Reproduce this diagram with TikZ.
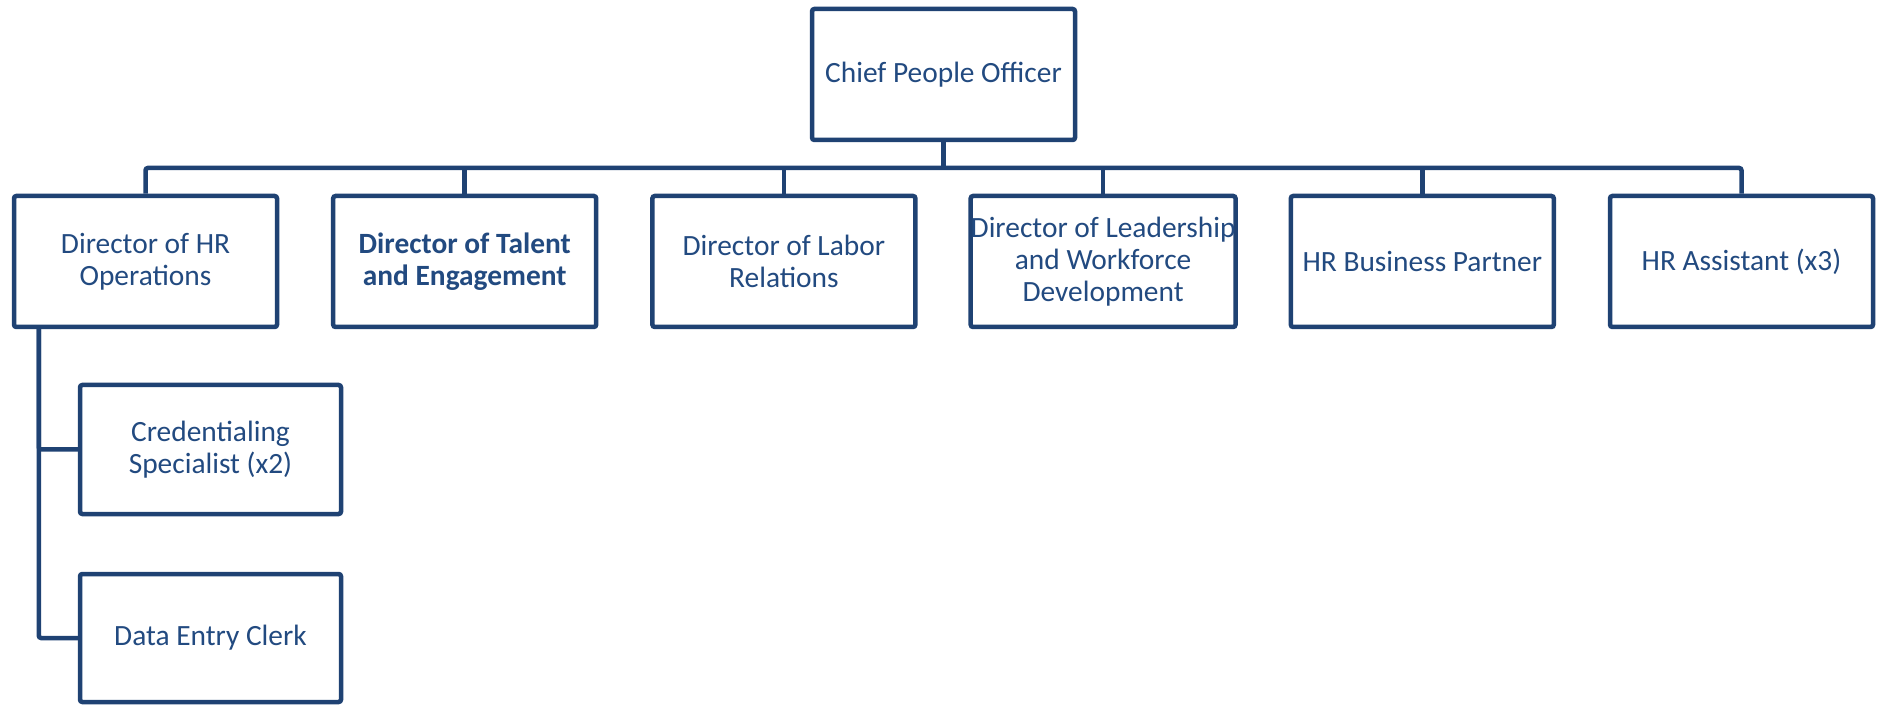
\documentclass[tikz,border=0pt]{standalone}
\usepackage{fontspec}
\setmainfont{Carlito}
\definecolor{boxline}{RGB}{31,66,115}
\definecolor{boxtext}{RGB}{34,74,128}
\begin{document}
\begin{tikzpicture}[x=0.5pt,y=-0.5pt,
  role/.style={draw=boxline, line width=2.25pt, rounded corners=1.2pt, fill=white,
    text=boxtext, align=center, inner sep=0pt,
    minimum width=131.5pt, minimum height=65.5pt,
    font=\fontsize{14.7}{16}\selectfont},
  link/.style={draw=boxline, line width=2.25pt, rounded corners=1.2pt}]
\useasboundingbox (0,0) rectangle (1879,705);

% top of the chart
\node[role] (cpo) at (943.5,74.5) {Chief People Officer};

% directors row
\node[role] (d1) at (145.5,261.5) {Director of HR\\Operations};
\node[role] (d2) at (464.7,261.5) {\bfseries Director of Talent\\\bfseries and Engagement};
\node[role] (d3) at (783.9,261.5) {Director of Labor\\Relations};
\node[role] (d4) at (1103.1,261.5) {Director of Leadership\\and Workforce\\Development};
\node[role] (d5) at (1422.3,261.5) {HR Business Partner};
\node[role] (d6) at (1741.5,261.5) {HR Assistant (x3)};

% staff under HR operations
\node[role, minimum width=130.5pt, minimum height=64.5pt] (cred) at (210.5,449.5) {Credentialing\\Specialist (x2)};
\node[role, minimum width=130.5pt, minimum height=64pt] (clerk) at (210.5,638) {Data Entry Clerk};

% connectors
\coordinate (bus) at (943.5,168);
\draw[link] (cpo.south) -- (bus);
\draw[link] (d1.north) |- (bus) -| (d6.north);
\foreach \d in {d2,d3,d4,d5} \draw[link] (\d.north) -- (\d.north |- bus);

\path (d1.south west) ++(13.5pt,0) coordinate (spine);
\draw[link] (spine) |- (cred.west);
\draw[link] (spine) |- (clerk.west);
\end{tikzpicture}
\end{document}
